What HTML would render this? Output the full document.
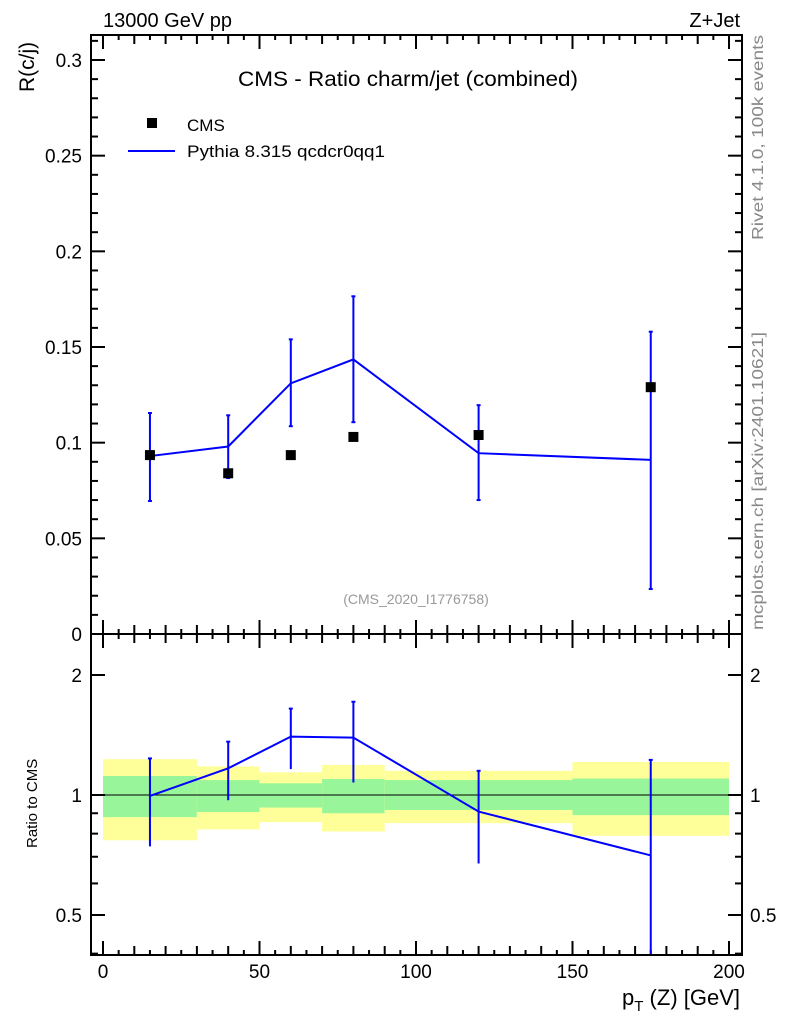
<!DOCTYPE html>
<html><head><meta charset="utf-8"><style>
body{margin:0;background:#fff;}
svg{display:block;font-family:"Liberation Sans",sans-serif;}
</style></head><body>
<svg id="c" width="786" height="1024" viewBox="0 0 786 1024">
<g id="g"></g>
</svg>
<script>
const xCenters=[15,40,60,80,120,175];
const binEdges=[0,30,50,70,90,150,200];
const cmsVals=[0.0935,0.084,0.0935,0.103,0.104,0.129];
const pyVals=[0.093,0.098,0.131,0.1435,0.0945,0.091];
const pyUp=[0.1155,0.1143,0.154,0.1765,0.1196,0.158];
const pyDn=[0.0695,0.0815,0.1086,0.1107,0.070,0.0235];
const yelUp=[1.23,1.18,1.14,1.19,1.15,1.21];
const yelDn=[0.77,0.82,0.855,0.81,0.85,0.79];
const grnUp=[1.116,1.09,1.07,1.097,1.09,1.10];
const grnDn=[0.88,0.906,0.93,0.90,0.917,0.89];
const mainTicks=["0","0.05","0.1","0.15","0.2","0.25","0.3"];
const xTicks=["0","50","100","150","200"];
const rTicks=["0.5","1","2"];

const NS="http://www.w3.org/2000/svg";
const g=document.getElementById('g');
function el(t,a,txt){const e=document.createElementNS(NS,t);for(const k in a)e.setAttribute(k,a[k]);if(txt!==undefined)e.textContent=txt;g.appendChild(e);return e;}
const L=91,R=742,T=35,MB=634,RB=955;
const X=v=>103+v*(729-103)/200;
const Y=v=>634-v*(634-60)/0.3;
const RY=v=>795-Math.log2(v)*120;

for(let i=0;i<6;i++){
 let e=el('rect',{x:X(binEdges[i]),y:RY(yelUp[i]),width:X(binEdges[i+1])-X(binEdges[i]),height:RY(yelDn[i])-RY(yelUp[i]),fill:'#ffff99'});
 
 e=el('rect',{x:X(binEdges[i]),y:RY(grnUp[i]),width:X(binEdges[i+1])-X(binEdges[i]),height:RY(grnDn[i])-RY(grnUp[i]),fill:'#99f599'});
 
}
el('line',{x1:L,x2:R,y1:RY(1),y2:RY(1),stroke:'#000','stroke-width':1});

el('rect',{x:L,y:T,width:R-L,height:MB-T,fill:'none',stroke:'#000','stroke-width':2});
el('rect',{x:L,y:MB,width:R-L,height:RB-MB,fill:'none',stroke:'#000','stroke-width':2});

for(let v=0;v<=200;v+=5){
 const len=v%50==0?14:(v%10==0?9:5);
 [MB,RB].forEach(yb=>{el('line',{x1:X(v),x2:X(v),y1:yb,y2:yb-len,stroke:'#000','stroke-width':2});});
 el('line',{x1:X(v),x2:X(v),y1:MB,y2:MB+len,stroke:'#000','stroke-width':2});
 el('line',{x1:X(v),x2:X(v),y1:T,y2:T+len,stroke:'#000','stroke-width':2});
}
xTicks.forEach((t,i)=>{const e=el('text',{x:X(+t),y:978,'font-size':19,'text-anchor':'middle'},t);});
for(let k=0;k<=31;k++){const v=k*0.01;const len=k%5==0?14:7;
 el('line',{x1:L,x2:L+len,y1:Y(v),y2:Y(v),stroke:'#000','stroke-width':2});
 el('line',{x1:R,x2:R-len,y1:Y(v),y2:Y(v),stroke:'#000','stroke-width':2});}
mainTicks.forEach(t=>{const e=el('text',{x:82,y:Y(+t)+7,'font-size':19,'text-anchor':'end'},t);});
[0.4,0.5,0.6,0.7,0.8,0.9,1,2].forEach(v=>{const len=(v==0.5||v==1||v==2)?14:7;
 el('line',{x1:L,x2:L+len,y1:RY(v),y2:RY(v),stroke:'#000','stroke-width':2});
 el('line',{x1:R,x2:R-len,y1:RY(v),y2:RY(v),stroke:'#000','stroke-width':2});});
rTicks.forEach(t=>{let e=el('text',{x:82,y:RY(+t)+7,'font-size':19,'text-anchor':'end'},t);
 e=el('text',{x:750,y:RY(+t)+7,'font-size':19},t);});

let p=el('polyline',{points:xCenters.map((x,i)=>X(x)+','+Y(pyVals[i])).join(' '),fill:'none',stroke:'#0000ff','stroke-width':2});

xCenters.forEach((x,i)=>{
 const e=el('line',{x1:X(x),x2:X(x),y1:Y(pyUp[i]),y2:Y(pyDn[i]),stroke:'#0000ff','stroke-width':2});
 
 [pyUp[i],pyDn[i]].forEach(v=>el('line',{x1:X(x)-2,x2:X(x)+2,y1:Y(v),y2:Y(v),stroke:'#0000ff','stroke-width':2}));
 const m=el('rect',{x:X(x)-5,y:Y(cmsVals[i])-5,width:10,height:10,fill:'#000'});
 
});
const ratio=pyVals.map((v,i)=>v/cmsVals[i]);
p=el('polyline',{points:xCenters.map((x,i)=>X(x)+','+RY(ratio[i])).join(' '),fill:'none',stroke:'#0000ff','stroke-width':2});

xCenters.forEach((x,i)=>{
 const up=pyUp[i]/cmsVals[i],dn=Math.max(pyDn[i]/cmsVals[i],0.4);
 const e=el('line',{x1:X(x),x2:X(x),y1:RY(up),y2:Math.min(RY(dn),RB),stroke:'#0000ff','stroke-width':2});
 
 el('line',{x1:X(x)-2,x2:X(x)+2,y1:RY(up),y2:RY(up),stroke:'#0000ff','stroke-width':2});
});

const txt=(x,y,s,a,name)=>{const e=el('text',Object.assign({x:x,y:y,'font-size':20},a||{}),s);return e;};
txt(103,27,'13000 GeV pp',{},'energy-label');
txt(740,27,'Z+Jet',{'text-anchor':'end'},'process-label');
txt(238,86,'CMS - Ratio charm/jet (combined)',{'font-size':21,textLength:340,lengthAdjust:'spacingAndGlyphs'},'plot-title');
txt(187,131,'CMS',{'font-size':17},'legend-cms');
txt(187,157,'Pythia 8.315 qcdcr0qq1',{'font-size':17,textLength:198,lengthAdjust:'spacingAndGlyphs'},'legend-pythia');
let e=el('rect',{x:147,y:118,width:10,height:10,fill:'#000'});
e=el('line',{x1:128,x2:175,y1:151,y2:151,stroke:'#0000ff','stroke-width':2});
txt(416,604,'(CMS_2020_I1776758)',{'font-size':14,fill:'#999','text-anchor':'middle'},'analysis-id');
txt(34,92,'R(c/j)',{'font-size':21,transform:'rotate(-90 34 92)','text-anchor':'start'},'y-axis-title');
txt(37,848,'Ratio to CMS',{'font-size':15,transform:'rotate(-90 37 848)'},'ratio-axis-title');
e=el('text',{x:740,y:1005,'font-size':22,'text-anchor':'end'});
e.innerHTML='p<tspan font-size="15" dy="6">T</tspan><tspan dy="-6"> (Z) [GeV]</tspan>';

txt(763,240,'Rivet 4.1.0,  100k events',{'font-size':16,fill:'#888',textLength:205,lengthAdjust:'spacingAndGlyphs',transform:'rotate(-90 763 240)'},'rivet-label');
txt(763,630,'mcplots.cern.ch [arXiv:2401.10621]',{'font-size':16,fill:'#888',textLength:298,lengthAdjust:'spacingAndGlyphs',transform:'rotate(-90 763 630)'},'mcplots-label');
</script>
</body></html>
